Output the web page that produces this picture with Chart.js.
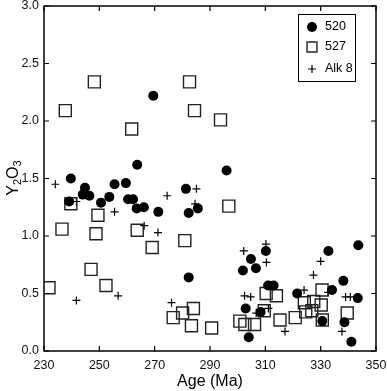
<!DOCTYPE html>
<html>
<head>
<meta charset="utf-8">
<script src="https://cdn.jsdelivr.net/npm/chart.js@4.4.1/dist/chart.umd.min.js"></script>
<style>
  html, body { margin: 0; padding: 0; background: #fff; }
  #wrap { width: 387px; height: 391px; }
</style>
</head>
<body>
<div id="wrap"><canvas id="chart"></canvas></div>
<script>
// sample 520
const age520 = [239.7, 244.8, 244.0, 246.4, 255.5, 259.6, 253.6, 239.1, 250.6, 260.4, 262.2, 263.5, 266.1, 271.3, 263.7, 269.5, 296.0, 281.3, 282.3, 285.6, 282.3, 310.2, 304.8, 301.9, 306.6, 311.0, 313.0, 321.5, 302.9, 308.3, 304.0, 332.8, 343.6, 338.2, 334.1, 343.4, 330.6, 338.6, 341.1];
const y2o3_520 = [1.50, 1.42, 1.36, 1.35, 1.45, 1.46, 1.34, 1.30, 1.29, 1.32, 1.32, 1.24, 1.25, 1.21, 1.62, 2.22, 1.57, 1.41, 1.20, 1.24, 0.64, 0.87, 0.80, 0.70, 0.72, 0.57, 0.57, 0.50, 0.37, 0.34, 0.12, 0.87, 0.92, 0.61, 0.53, 0.46, 0.26, 0.25, 0.08];

// sample 527
const age527 = [248.2, 237.7, 282.6, 284.4, 261.7, 293.8, 239.7, 249.5, 236.5, 248.8, 263.7, 269.1, 280.9, 296.8, 247.0, 252.4, 231.8, 276.7, 280.1, 284.0, 283.3, 290.6, 300.8, 302.6, 306.1, 310.3, 314.0, 309.6, 315.3, 320.8, 324.1, 324.6, 327.5, 326.8, 330.5, 330.2, 330.6, 339.6];
const y2o3_527 = [2.34, 2.09, 2.34, 2.09, 1.93, 2.01, 1.28, 1.18, 1.06, 1.02, 1.05, 0.90, 0.96, 1.26, 0.71, 0.57, 0.55, 0.29, 0.33, 0.37, 0.22, 0.20, 0.26, 0.23, 0.23, 0.50, 0.48, 0.35, 0.27, 0.29, 0.42, 0.34, 0.43, 0.35, 0.53, 0.40, 0.27, 0.33];

// sample Alk 8
const ageAlk8 = [234.1, 241.7, 255.5, 266.2, 271.2, 274.5, 241.7, 256.8, 276.1, 285.1, 284.6, 302.2, 310.2, 310.4, 302.5, 304.7, 306.7, 311.1, 317.1, 324.0, 327.4, 330.0, 332.7, 339.0, 340.7, 337.7];
const y2o3_Alk8 = [1.45, 1.30, 1.21, 1.09, 1.03, 1.35, 0.44, 0.48, 0.42, 1.41, 1.28, 0.87, 0.93, 0.77, 0.48, 0.47, 0.33, 0.37, 0.17, 0.53, 0.66, 0.78, 0.51, 0.47, 0.47, 0.17];

const seriesNames = ['520', '527', 'Alk 8'];
const xTicks = [230, 250, 270, 290, 310, 330, 350];
const yTicks = [0.0, 0.5, 1.0, 1.5, 2.0, 2.5, 3.0];

const FONT = '"Liberation Sans", Arial, sans-serif';

function toPoints(xs, ys) {
    return xs.map((x, i) => ({ x: x, y: ys[i] }));
}

const styles = [
    { pointStyle: 'circle', pointRadius: 5, backgroundColor: '#000', borderColor: '#000', borderWidth: 0 },
    { pointStyle: 'rect', pointRadius: 8.5, backgroundColor: 'rgba(0,0,0,0)', borderColor: '#222', borderWidth: 1.4 },
    { pointStyle: 'cross', pointRadius: 4, backgroundColor: '#000', borderColor: '#000', borderWidth: 1.2 }
];

// box around plot + inward ticks on all four sides, y title, legend
const framePlugin = {
    id: 'frame',
    afterDraw(chart) {
        const ctx = chart.ctx;
        const a = chart.chartArea;
        const sx = chart.scales.x, sy = chart.scales.y;
        ctx.save();
        ctx.strokeStyle = '#000';
        ctx.lineWidth = 1.5;
        ctx.strokeRect(a.left, a.top, a.right - a.left, a.bottom - a.top);
        ctx.lineWidth = 1.2;
        ctx.beginPath();
        xTicks.forEach(t => {
            const px = sx.getPixelForValue(t);
            ctx.moveTo(px, a.bottom); ctx.lineTo(px, a.bottom - 5);
            ctx.moveTo(px, a.top); ctx.lineTo(px, a.top + 5);
        });
        yTicks.forEach(t => {
            const py = sy.getPixelForValue(t);
            ctx.moveTo(a.left, py); ctx.lineTo(a.left + 5, py);
            ctx.moveTo(a.right, py); ctx.lineTo(a.right - 5, py);
        });
        ctx.stroke();

        // y axis title with subscripts
        ctx.translate(13, 178);
        ctx.rotate(-Math.PI / 2);
        ctx.fillStyle = '#000';
        ctx.textBaseline = 'alphabetic';
        const parts = [['Y', 16, 0], ['2', 11, 3], ['O', 16, 0], ['3', 11, 3]];
        let w = 0;
        parts.forEach(p => { ctx.font = p[1] + 'px ' + FONT; w += ctx.measureText(p[0]).width; });
        let x = -w / 2;
        parts.forEach(p => {
            ctx.font = p[1] + 'px ' + FONT;
            ctx.fillText(p[0], x, 5 + p[2]);
            x += ctx.measureText(p[0]).width;
        });
        ctx.restore();

        // legend box
        ctx.save();
        const lx = 298.5, ly = 14.5, lw = 57, lh = 67;
        ctx.fillStyle = '#fff';
        ctx.fillRect(lx, ly, lw, lh);
        ctx.strokeStyle = '#000';
        ctx.lineWidth = 1;
        ctx.strokeRect(lx, ly, lw, lh);
        const rows = [27, 47, 69];
        chart.data.datasets.forEach((ds, i) => {
            const st = styles[i];
            ctx.fillStyle = st.backgroundColor;
            ctx.strokeStyle = st.borderColor;
            ctx.lineWidth = st.borderWidth;
            Chart.helpers.drawPoint(ctx, { pointStyle: st.pointStyle, radius: i === 1 ? 7 : st.pointRadius, borderWidth: st.borderWidth }, 312, rows[i]);
            ctx.fillStyle = '#000';
            ctx.font = '12.5px ' + FONT;
            ctx.textBaseline = 'middle';
            ctx.fillText(ds.label, 325, rows[i]);
        });
        ctx.restore();
    }
};

const datasets = [
    toPoints(age520, y2o3_520),
    toPoints(age527, y2o3_527),
    toPoints(ageAlk8, y2o3_Alk8)
].map((pts, i) => Object.assign({ label: seriesNames[i], data: pts, pointHoverRadius: styles[i].pointRadius }, styles[i]));

new Chart(document.getElementById('chart'), {
    type: 'scatter',
    data: { datasets: datasets },
    plugins: [framePlugin],
    options: {
        responsive: true,
        maintainAspectRatio: false,
        animation: false,
        layout: { autoPadding: false, padding: { top: 6, right: 11, left: 0, bottom: 0 } },
        plugins: { legend: { display: false }, tooltip: { enabled: false } },
        scales: {
            x: {
                type: 'linear',
                min: 230, max: 350,
                border: { display: false },
                grid: { display: false, drawTicks: false },
                ticks: {
                    stepSize: 20, padding: 7, color: '#111',
                    font: { family: FONT, size: 12.5 }
                },
                title: {
                    display: true, text: 'Age (Ma)', color: '#000',
                    padding: { top: 0, bottom: 0 },
                    font: { family: FONT, size: 16 }
                },
                afterFit(s) { s.height = 40; s.paddingLeft = 0; s.paddingRight = 0; }
            },
            y: {
                type: 'linear',
                min: 0, max: 3,
                border: { display: false },
                grid: { display: false, drawTicks: false },
                ticks: {
                    stepSize: 0.5, padding: 5, color: '#111',
                    font: { family: FONT, size: 12.5 },
                    callback: v => v.toFixed(1)
                },
                afterFit(s) { s.width = 44; s.paddingTop = 0; s.paddingBottom = 0; }
            }
        }
    }
});
</script>
</body>
</html>
